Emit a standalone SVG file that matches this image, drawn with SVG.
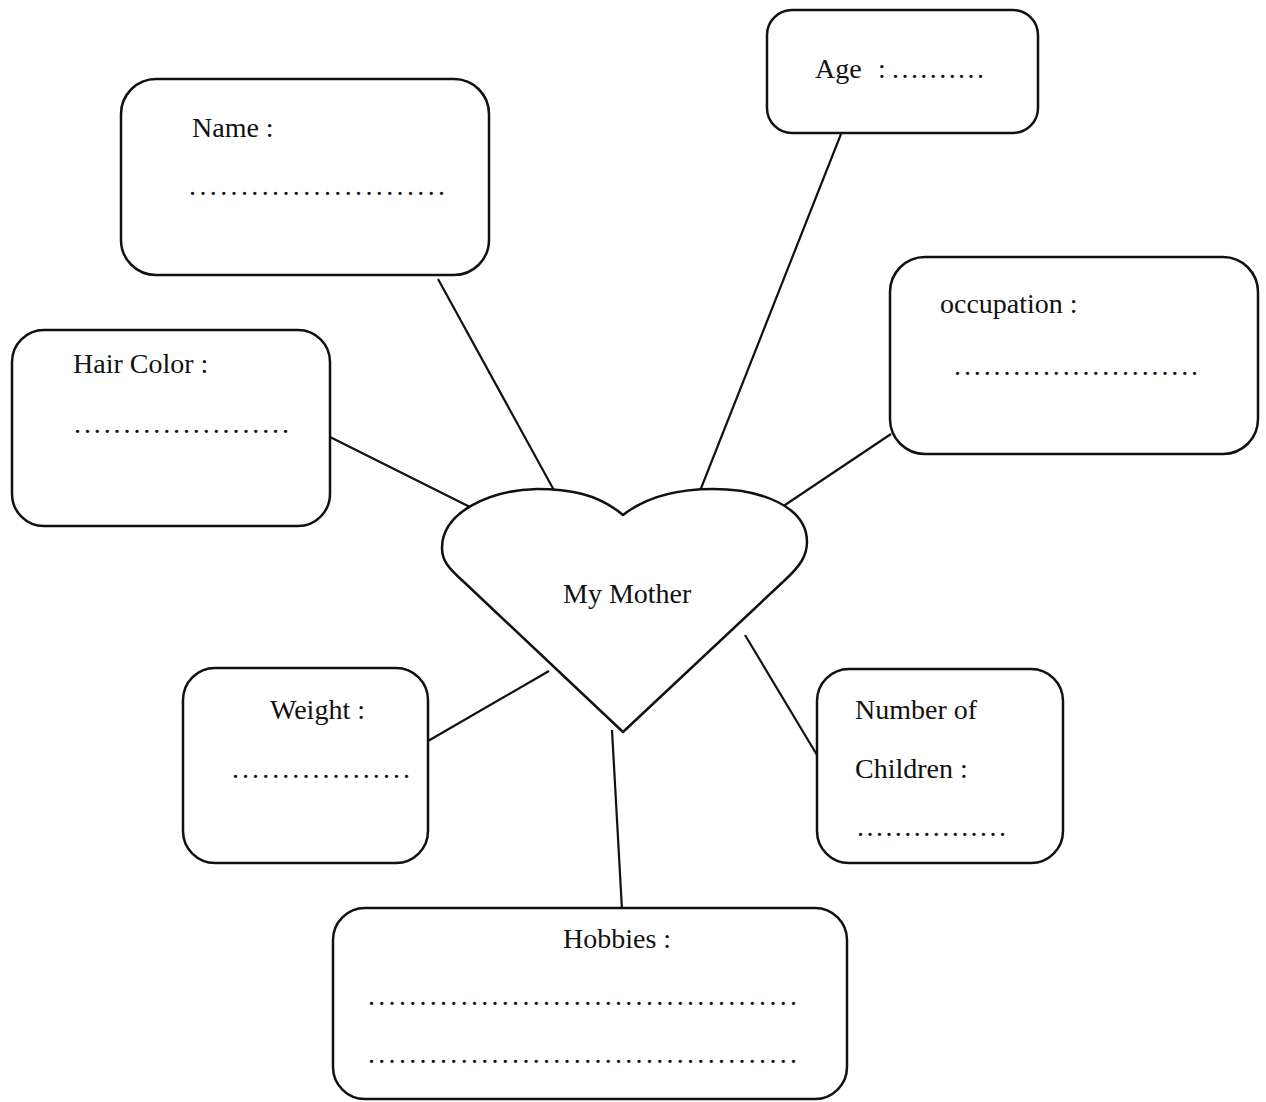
<svg xmlns="http://www.w3.org/2000/svg" width="1266" height="1102" viewBox="0 0 1266 1102">
  <style>
    .box { fill: #ffffff; stroke: #111111; stroke-width: 2.5; }
    .heart { fill: #ffffff; stroke: #111111; stroke-width: 2.5; stroke-linejoin: round; }
    .conn { stroke: #111111; stroke-width: 2.2; fill: none; }
    .t { font-family: "Liberation Serif", "Times New Roman", serif; font-size: 28px; fill: #111111; }
    .d { font-family: "Liberation Serif", "Times New Roman", serif; font-size: 28px; fill: #111111; }
  </style>
  <rect width="1266" height="1102" fill="#ffffff"/>

  <g id="connectors">
    <line class="conn" x1="438" y1="279" x2="561" y2="503"/>
    <line class="conn" x1="841" y1="134" x2="696" y2="501"/>
    <line class="conn" x1="891" y1="434" x2="782" y2="507"/>
    <line class="conn" x1="330" y1="437" x2="472" y2="508"/>
    <line class="conn" x1="428" y1="741" x2="549" y2="671"/>
    <line class="conn" x1="612" y1="730" x2="622" y2="910"/>
    <line class="conn" x1="745" y1="635" x2="817" y2="755"/>
  </g>

  <g id="node-heart">
    <path class="heart" d="M 623 515 C 597 493, 567 489, 537 489 C 490 490, 442 512, 442 548 C 442 560, 447 567, 465 583 L 623 732 L 785 580 C 800 566, 807 556, 807 542 C 807 506, 760 489, 713 489 C 676 489, 646 497, 623 515 Z"/>
    <text class="t" x="563" y="603">My Mother</text>
  </g>

  <g id="node-name">
    <rect class="box" x="121" y="79" width="368" height="196" rx="35"/>
    <text class="t" x="192" y="137">Name :</text>
    <text class="d" x="189" y="195" textLength="256" lengthAdjust="spacing">.........................</text>
  </g>

  <g id="node-age">
    <rect class="box" x="767" y="10" width="271" height="123" rx="25"/>
    <text class="t" x="815" y="78">Age</text>
    <text class="t" x="878" y="78">:</text>
    <text class="d" x="892" y="78" textLength="92" lengthAdjust="spacing">..........</text>
  </g>

  <g id="node-occupation">
    <rect class="box" x="890" y="257" width="368" height="197" rx="35"/>
    <text class="t" x="940" y="313">occupation :</text>
    <text class="d" x="954" y="375" textLength="244" lengthAdjust="spacing">.........................</text>
  </g>

  <g id="node-hair-color">
    <rect class="box" x="12" y="330" width="318" height="196" rx="32"/>
    <text class="t" x="73" y="373">Hair Color :</text>
    <text class="d" x="74" y="433" textLength="215" lengthAdjust="spacing">......................</text>
  </g>

  <g id="node-weight">
    <rect class="box" x="183" y="668" width="245" height="195" rx="32"/>
    <text class="t" x="270" y="719">Weight :</text>
    <text class="d" x="232" y="778" textLength="178" lengthAdjust="spacing">..................</text>
  </g>

  <g id="node-children">
    <rect class="box" x="817" y="669" width="246" height="194" rx="32"/>
    <text class="t" x="855" y="719">Number of</text>
    <text class="t" x="855" y="778">Children :</text>
    <text class="d" x="857" y="836" textLength="149" lengthAdjust="spacing">................</text>
  </g>

  <g id="node-hobbies">
    <rect class="box" x="333" y="908" width="514" height="191" rx="32"/>
    <text class="t" x="563" y="948">Hobbies :</text>
    <text class="d" x="368" y="1005" textLength="429" lengthAdjust="spacing">..........................................</text>
    <text class="d" x="368" y="1063" textLength="429" lengthAdjust="spacing">..........................................</text>
  </g>
</svg>
